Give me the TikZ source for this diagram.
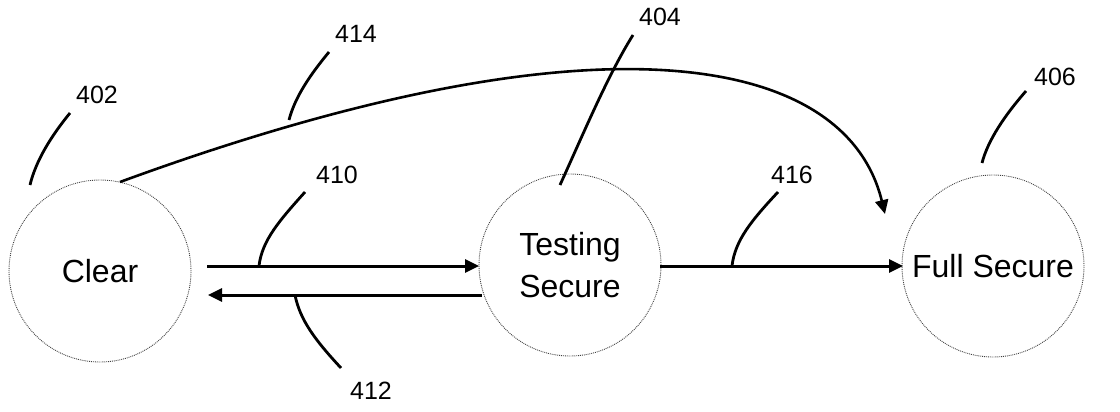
\documentclass[tikz,border=0pt]{standalone}
\usepackage{fontspec}
\setmainfont{Liberation Sans}
\usetikzlibrary{arrows.meta}
\begin{document}
\begin{tikzpicture}[x=1pt,y=-1pt,
  state/.style={circle,draw=black!75,densely dotted,line width=0.9pt,minimum size=182pt,inner sep=0pt,align=center,font=\fontsize{32}{42}\selectfont},
  conn/.style={line width=3pt,-{Triangle[length=14pt,width=13pt]}},
  curv/.style={line width=2.6pt,-{Triangle[length=14pt,width=13pt]}},
  lead/.style={line width=2.8pt},
  lbl/.style={font=\fontsize{25}{25}\selectfont,inner sep=0pt}]
\useasboundingbox (0,0) rectangle (1120,412);
\node[state] (clear) at (100,271) {Clear};
\node[state] (test) at (570,265) {Testing\\Secure};
\node[state] (full) at (993,266) {Full Secure};
% connectors
\coordinate (a1s) at (207,266);
\coordinate (a1e) at (479,266);
\coordinate (a2s) at (482,295);
\coordinate (a2e) at (208,295);
\coordinate (a3s) at (660,266);
\coordinate (a3e) at (903,266);
\coordinate (cs) at (120,182);
\coordinate (ce) at (885,214);
\draw[conn] (a1s) -- (a1e);
\draw[conn] (a2s) -- (a2e);
\draw[conn] (a3s) -- (a3e);
\draw[curv] (cs) .. controls (600,6) and (846,54) .. (ce);
% labels
\node[lbl] (l402) at (97,95) {402};
\node[lbl] (l414) at (356,34) {414};
\node[lbl] (l410) at (337,175) {410};
\node[lbl] (l412) at (371,391) {412};
\node[lbl] (l404) at (660,17) {404};
\node[lbl] (l406) at (1055,77) {406};
\node[lbl] (l416) at (792,175) {416};
% leader lines
\coordinate (p402a) at (30,185); \coordinate (p402b) at (70,113);
\coordinate (p414a) at (289,120); \coordinate (p414b) at (329,52);
\coordinate (p410a) at (259,266); \coordinate (p410b) at (305,192);
\coordinate (p412a) at (295,295); \coordinate (p412b) at (341,368);
\coordinate (p404a) at (560,185); \coordinate (p404b) at (633,35);
\coordinate (p406a) at (982,163); \coordinate (p406b) at (1026,91);
\coordinate (p416a) at (732,266); \coordinate (p416b) at (778,192);
\draw[lead] (p402a) .. controls (36,160) and (52,135) .. (p402b);
\draw[lead] (p414a) .. controls (295,97) and (310,75) .. (p414b);
\draw[lead] (p410a) .. controls (262,240) and (280,220) .. (p410b);
\draw[lead] (p412a) .. controls (300,320) and (315,340) .. (p412b);
\draw[lead] (p404a) .. controls (585,130) and (608,75) .. (p404b);
\draw[lead] (p406a) .. controls (988,140) and (1005,115) .. (p406b);
\draw[lead] (p416a) .. controls (735,240) and (752,220) .. (p416b);
\end{tikzpicture}
\end{document}
